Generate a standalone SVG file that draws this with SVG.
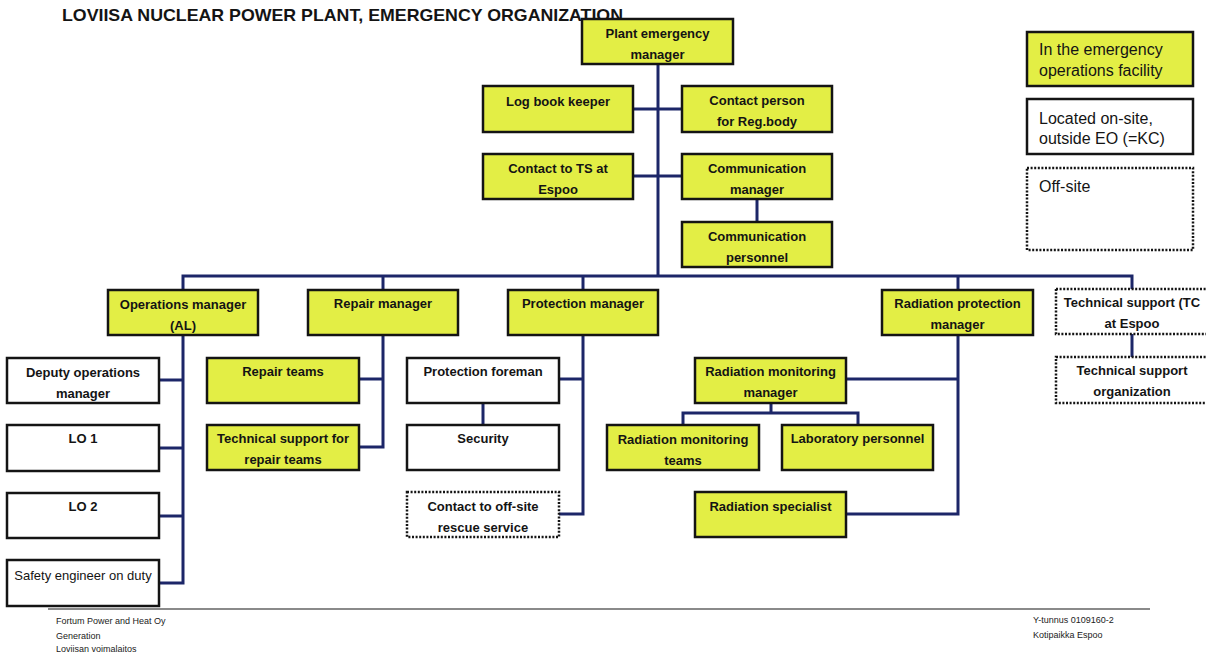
<svg xmlns="http://www.w3.org/2000/svg" width="1206" height="657" viewBox="0 0 1206 657">
  <style>
    .y { fill: #e3ee45; stroke: #141414; stroke-width: 2.5; }
    .w { fill: #ffffff; stroke: #141414; stroke-width: 2.5; }
    .d { fill: #ffffff; stroke: #141414; stroke-width: 2.5; stroke-dasharray: 2 1.6; }
    .t { font-family: "Liberation Sans", Arial, sans-serif; font-weight: bold; font-size: 13px; text-anchor: middle; fill: #141414; }
    .r { font-weight: normal; }
    .leg { font-family: "Liberation Sans", Arial, sans-serif; font-size: 16px; fill: #141414; }
    .foot { font-family: "Liberation Sans", Arial, sans-serif; font-size: 9px; fill: #222; }
    .c { stroke: #1c2668; stroke-width: 3; fill: none; }
  </style>

  <rect width="1206" height="657" fill="#ffffff"/>

  <!-- heading -->
  <text x="62" y="21" font-family="Liberation Sans, Arial, sans-serif" font-weight="bold" font-size="17" fill="#141414" textLength="561" lengthAdjust="spacingAndGlyphs">LOVIISA NUCLEAR POWER PLANT, EMERGENCY ORGANIZATION</text>

  <!-- connectors -->
  <g id="connectors">
    <path class="c" d="M658,64 V276"/>
    <path class="c" d="M633,109 H682"/>
    <path class="c" d="M633,176 H682"/>
    <path class="c" d="M757,199 V222"/>
    <path class="c" d="M183,290 V276 H1132 V289"/>
    <path class="c" d="M383,276 V290"/>
    <path class="c" d="M583,276 V290"/>
    <path class="c" d="M958,276 V290"/>
    <!-- operations branch -->
    <path class="c" d="M183,335 V583 H159"/>
    <path class="c" d="M159,380 H183"/>
    <path class="c" d="M159,448 H183"/>
    <path class="c" d="M159,516 H183"/>
    <!-- repair branch -->
    <path class="c" d="M383,335 V447 H359"/>
    <path class="c" d="M359,379 H383"/>
    <!-- protection branch -->
    <path class="c" d="M583,335 V514 H559"/>
    <path class="c" d="M559,379 H583"/>
    <path class="c" d="M483,403 V425"/>
    <!-- radiation protection branch -->
    <path class="c" d="M958,335 V514 H846"/>
    <path class="c" d="M846,379 H958"/>
    <path class="c" d="M771,403 V413"/>
    <path class="c" d="M683,425 V413 H858 V425"/>
    <!-- technical support -->
    <path class="c" d="M1132,334 V357"/>
  </g>

  <!-- nodes -->
  <g id="plant-emergency-manager">
    <rect class="y" x="582" y="19" width="151" height="45"/>
    <text class="t" x="657.5" y="38">Plant emergency</text>
    <text class="t" x="657.5" y="59">manager</text>
  </g>
  <g id="log-book-keeper">
    <rect class="y" x="483" y="86" width="150" height="46"/>
    <text class="t" x="558" y="106">Log book keeper</text>
  </g>
  <g id="contact-reg-body">
    <rect class="y" x="682" y="86" width="150" height="46"/>
    <text class="t" x="757" y="105">Contact person</text>
    <text class="t" x="757" y="126">for Reg.body</text>
  </g>
  <g id="contact-ts-espoo">
    <rect class="y" x="483" y="154" width="150" height="45"/>
    <text class="t" x="558" y="173">Contact to TS at</text>
    <text class="t" x="558" y="194">Espoo</text>
  </g>
  <g id="communication-manager">
    <rect class="y" x="682" y="154" width="150" height="45"/>
    <text class="t" x="757" y="173">Communication</text>
    <text class="t" x="757" y="194">manager</text>
  </g>
  <g id="communication-personnel">
    <rect class="y" x="682" y="222" width="150" height="45"/>
    <text class="t" x="757" y="241">Communication</text>
    <text class="t" x="757" y="262">personnel</text>
  </g>

  <g id="operations-manager">
    <rect class="y" x="108" y="290" width="150" height="45"/>
    <text class="t" x="183" y="309">Operations manager</text>
    <text class="t" x="183" y="330">(AL)</text>
  </g>
  <g id="repair-manager">
    <rect class="y" x="308" y="290" width="150" height="45"/>
    <text class="t" x="383" y="308">Repair manager</text>
  </g>
  <g id="protection-manager">
    <rect class="y" x="508" y="290" width="150" height="45"/>
    <text class="t" x="583" y="308">Protection manager</text>
  </g>
  <g id="radiation-protection-manager">
    <rect class="y" x="882" y="290" width="151" height="45"/>
    <text class="t" x="957.5" y="308">Radiation protection</text>
    <text class="t" x="957.5" y="329">manager</text>
  </g>
  <g id="technical-support-tc">
    <rect class="d" x="1056" y="289" width="154" height="45"/>
    <text class="t" x="1132" y="307">Technical support (TC</text>
    <text class="t" x="1132" y="328">at Espoo</text>
  </g>
  <g id="technical-support-organization">
    <rect class="d" x="1056" y="357" width="154" height="46"/>
    <text class="t" x="1132" y="375">Technical support</text>
    <text class="t" x="1132" y="396">organization</text>
  </g>

  <g id="deputy-operations-manager">
    <rect class="w" x="7" y="358" width="152" height="45"/>
    <text class="t" x="83" y="377">Deputy operations</text>
    <text class="t" x="83" y="398">manager</text>
  </g>
  <g id="lo1">
    <rect class="w" x="7" y="425" width="152" height="46"/>
    <text class="t" x="83" y="443">LO 1</text>
  </g>
  <g id="lo2">
    <rect class="w" x="7" y="493" width="152" height="45"/>
    <text class="t" x="83" y="511">LO 2</text>
  </g>
  <g id="safety-engineer">
    <rect class="w" x="7" y="560" width="152" height="46"/>
    <text class="t r" x="83" y="580">Safety engineer on duty</text>
  </g>

  <g id="repair-teams">
    <rect class="y" x="207" y="358" width="152" height="45"/>
    <text class="t" x="283" y="376">Repair teams</text>
  </g>
  <g id="technical-support-repair">
    <rect class="y" x="207" y="425" width="152" height="45"/>
    <text class="t" x="283" y="443">Technical support for</text>
    <text class="t" x="283" y="464">repair teams</text>
  </g>

  <g id="protection-foreman">
    <rect class="w" x="407" y="358" width="152" height="45"/>
    <text class="t" x="483" y="376">Protection foreman</text>
  </g>
  <g id="security">
    <rect class="w" x="407" y="425" width="152" height="45"/>
    <text class="t" x="483" y="443">Security</text>
  </g>
  <g id="offsite-rescue-contact">
    <rect class="d" x="407" y="492" width="152" height="45"/>
    <text class="t" x="483" y="511">Contact to off-site</text>
    <text class="t" x="483" y="532">rescue service</text>
  </g>

  <g id="radiation-monitoring-manager">
    <rect class="y" x="695" y="358" width="151" height="45"/>
    <text class="t" x="770.5" y="376">Radiation monitoring</text>
    <text class="t" x="770.5" y="397">manager</text>
  </g>
  <g id="radiation-monitoring-teams">
    <rect class="y" x="607" y="425" width="152" height="45"/>
    <text class="t" x="683" y="444">Radiation monitoring</text>
    <text class="t" x="683" y="465">teams</text>
  </g>
  <g id="laboratory-personnel">
    <rect class="y" x="782" y="425" width="151" height="45"/>
    <text class="t" x="857.5" y="443">Laboratory personnel</text>
  </g>
  <g id="radiation-specialist">
    <rect class="y" x="695" y="492" width="151" height="45"/>
    <text class="t" x="770.5" y="511">Radiation specialist</text>
  </g>

  <!-- legend -->
  <g id="legend">
    <rect class="y" x="1027" y="32" width="166" height="54"/>
    <text class="leg" x="1039" y="55">In the emergency</text>
    <text class="leg" x="1039" y="76">operations facility</text>
    <rect class="w" x="1027" y="99" width="166" height="55"/>
    <text class="leg" x="1039" y="124">Located on-site,</text>
    <text class="leg" x="1039" y="144">outside EO (=KC)</text>
    <rect class="d" x="1027" y="168" width="166" height="82"/>
    <text class="leg" x="1039" y="192">Off-site</text>
  </g>

  <!-- footer -->
  <g id="footer">
    <path d="M48,609 H1150" stroke="#8a8a8a" stroke-width="2" fill="none"/>
    <text class="foot" x="56" y="624">Fortum Power and Heat Oy</text>
    <text class="foot" x="56" y="639">Generation</text>
    <text class="foot" x="56" y="652">Loviisan voimalaitos</text>
    <text class="foot" x="1033" y="623">Y-tunnus 0109160-2</text>
    <text class="foot" x="1033" y="638">Kotipaikka Espoo</text>
  </g>
</svg>
